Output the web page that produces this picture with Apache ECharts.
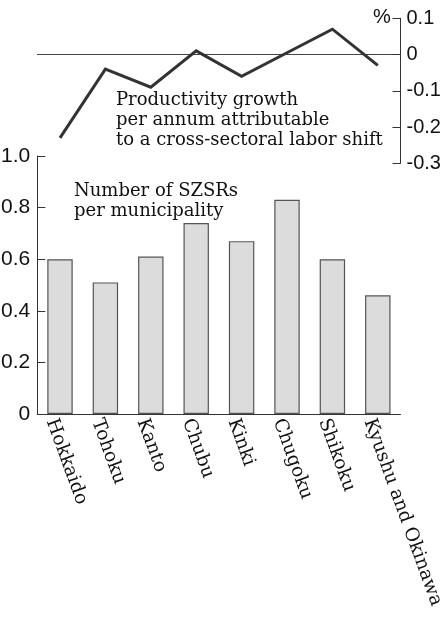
<!DOCTYPE html>
<html>
<head>
<meta charset="utf-8">
<script src="https://cdn.jsdelivr.net/npm/echarts@6/dist/echarts.min.js"></script>
<style>
html,body{margin:0;padding:0;background:#fff;}
#c{width:448px;height:620px;}
</style>
</head>
<body>
<div id="c"></div>
<script>
var regions = ['Hokkaido','Tohoku','Kanto','Chubu','Kinki','Chugoku','Shikoku','Kyushu and Okinawa'];
var productivityGrowth = [-0.23, -0.04, -0.09, 0.01, -0.06, 0.005, 0.07, -0.03];
var szsrPerMunicipality = [0.60, 0.51, 0.61, 0.74, 0.67, 0.83, 0.60, 0.46];
var growthTicks = {min: -0.3, max: 0.1, interval: 0.1};
var szsrTicks = {min: 0, max: 1.0, interval: 0.2};

var numFont = "'Liberation Sans', Arial, sans-serif";
var serifFont = "'DejaVu Serif', serif";

var chart = echarts.init(document.getElementById('c'), null, {renderer: 'canvas'});
chart.setOption({
  animation: false,
  backgroundColor: '#fff',
  grid: [
    {left: 37.3, right: 47.5, top: 18.3, height: 145, containLabel: false, outerBoundsMode: 'none'},
    {left: 37.3, right: 47.5, top: 156, height: 258, containLabel: false, outerBoundsMode: 'none'}
  ],
  xAxis: [
    {
      type: 'category', gridIndex: 0, data: regions, boundaryGap: true,
      axisLine: {show: true, onZero: true, lineStyle: {color: '#444', width: 1}},
      axisTick: {show: false}, axisLabel: {show: false}, splitLine: {show: false}
    },
    {
      type: 'category', gridIndex: 1, data: regions, boundaryGap: true,
      axisLine: {show: true, lineStyle: {color: '#333', width: 1}},
      axisTick: {show: false},
      axisLabel: {
        rotate: -70, margin: 2, interval: 0, hideOverlap: false,
        verticalAlign: 'top',
        fontFamily: serifFont, fontSize: 18.6, color: '#111'
      }
    }
  ],
  yAxis: [
    {
      type: 'value', gridIndex: 0, position: 'right',
      min: growthTicks.min, max: growthTicks.max, interval: growthTicks.interval,
      axisLine: {show: true, lineStyle: {color: '#333', width: 1}},
      axisTick: {show: true, inside: true, length: 8, lineStyle: {color: '#333'}},
      splitLine: {show: false},
      axisLabel: {
        margin: 6, fontFamily: numFont, fontSize: 20, color: '#111',
        formatter: function (v) { var r = Math.round(v * 10) / 10; return r === 0 ? '0' : r.toFixed(1); }
      }
    },
    {
      type: 'value', gridIndex: 1, position: 'left',
      min: szsrTicks.min, max: szsrTicks.max, interval: szsrTicks.interval,
      axisLine: {show: true, lineStyle: {color: '#333', width: 1}},
      axisTick: {show: true, inside: true, length: 8, lineStyle: {color: '#333'}},
      splitLine: {show: false},
      axisLabel: {
        margin: 7, fontFamily: numFont, fontSize: 21, color: '#111',
        formatter: function (v) { var r = Math.round(v * 10) / 10; return r === 0 ? '0' : r.toFixed(1); }
      }
    }
  ],
  series: [
    {
      type: 'line', xAxisIndex: 0, yAxisIndex: 0, data: productivityGrowth,
      showSymbol: false, symbol: 'none',
      lineStyle: {color: '#333', width: 3, join: 'miter'}
    },
    {
      type: 'bar', xAxisIndex: 1, yAxisIndex: 1, data: szsrPerMunicipality,
      barWidth: '56%',
      itemStyle: {color: '#dcdcdc', borderColor: '#555', borderWidth: 1.2}
    }
  ],
  graphic: [
    {
      type: 'text', left: 373, top: 7,
      style: {text: '%', font: '20px ' + numFont, fill: '#111'}
    },
    {
      type: 'text', left: 116, top: 90,
      style: {
        text: 'Productivity growth\nper annum attributable\nto a cross-sectoral labor shift',
        font: '18px ' + serifFont, lineHeight: 20, fill: '#111'
      }
    },
    {
      type: 'text', left: 74, top: 181,
      style: {
        text: 'Number of SZSRs\nper municipality',
        font: '18px ' + serifFont, lineHeight: 20, fill: '#111'
      }
    }
  ]
});
</script>
</body>
</html>
